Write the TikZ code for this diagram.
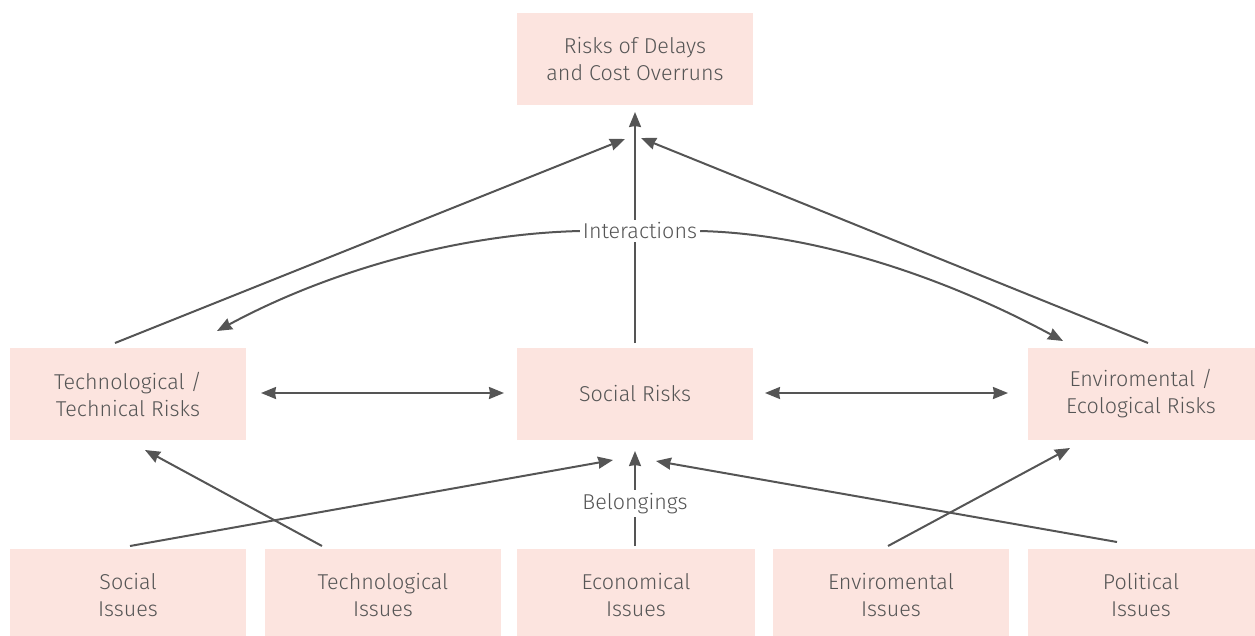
\documentclass[tikz,border=0pt]{standalone}
\usepackage{fontspec}
\setmainfont{Fira Sans Light}
\usetikzlibrary{arrows.meta}
\definecolor{boxfill}{HTML}{FCE4DF}
\definecolor{ink}{HTML}{555555}
\begin{document}
\begin{tikzpicture}[x=1pt,y=-1pt,
  box/.style={fill=boxfill,draw=none,minimum width=236pt,minimum height=92pt,align=center,text=ink,inner sep=0pt,font=\fontsize{21.5}{27}\selectfont},
  lowbox/.style={box,minimum height=92pt},
  arr/.style={draw=ink,line width=2pt,-{Stealth[length=15pt,width=12pt,inset=1pt]}},
  darr/.style={draw=ink,line width=2pt,{Stealth[length=15pt,width=12pt,inset=1pt]}-{Stealth[length=15pt,width=12pt,inset=1pt]}},
  lbl/.style={text=ink,fill=white,inner sep=3pt,font=\fontsize{21.5}{27}\selectfont}]
\useasboundingbox (0,0) rectangle (1255,635);
\node[box] (top) at (635,59) {Risks of Delays\\and Cost Overruns};
\node[box] (techr) at (128,394) {Technological /\\Technical Risks};
\node[box] (socr) at (635,394) {Social Risks};
\node[box,minimum width=227pt] (envr) at (1141,394) {Enviromental /\\Ecological Risks};
\node[lowbox] (soci) at (128,595) {Social\\Issues};
\node[lowbox] (techi) at (383,595) {Technological\\Issues};
\node[lowbox,minimum width=238pt] (econ) at (636,595) {Economical\\Issues};
\node[lowbox] (envi) at (891,595) {Enviromental\\Issues};
\node[lowbox,minimum width=227pt] (poli) at (1141,595) {Political\\Issues};
% coordinates
\coordinate (t1) at (115,343);
\coordinate (t2) at (625,139);
\coordinate (s1) at (635,343);
\coordinate (s2) at (635,112);
\coordinate (e1) at (1148,343);
\coordinate (e2) at (641,138);
\draw[arr] (t1) -- (t2);
\draw[arr] (s1) -- (s2);
\draw[arr] (e1) -- (e2);
\node[lbl] (inter) at (640,231) {Interactions};
\coordinate (cl) at (217,331);
\coordinate (cr) at (1063,341);
\draw[arr] (inter.west) .. controls (460,234) and (330,270) .. (cl);
\draw[arr] (inter.east) .. controls (820,234) and (950,280) .. (cr);
\coordinate (h1) at (261,393);
\coordinate (h2) at (504,393);
\coordinate (h3) at (765,393);
\coordinate (h4) at (1008,393);
\draw[darr] (h1) -- (h2);
\draw[darr] (h3) -- (h4);
\coordinate (a1) at (130,546);
\coordinate (a2) at (613,460);
\coordinate (b1) at (322,546);
\coordinate (b2) at (145,450);
\coordinate (c1) at (635,546);
\coordinate (c2) at (635,451);
\coordinate (d1) at (888,546);
\coordinate (d2) at (1070,448);
\coordinate (f1) at (1117,542);
\coordinate (f2) at (656,461);
\draw[arr] (a1) -- (a2);
\draw[arr] (b1) -- (b2);
\draw[arr] (d1) -- (d2);
\draw[arr] (f1) -- (f2);
\draw[arr] (c1) -- node[lbl,pos=0.45] (bel) {Belongings} (c2);
\end{tikzpicture}
\end{document}
